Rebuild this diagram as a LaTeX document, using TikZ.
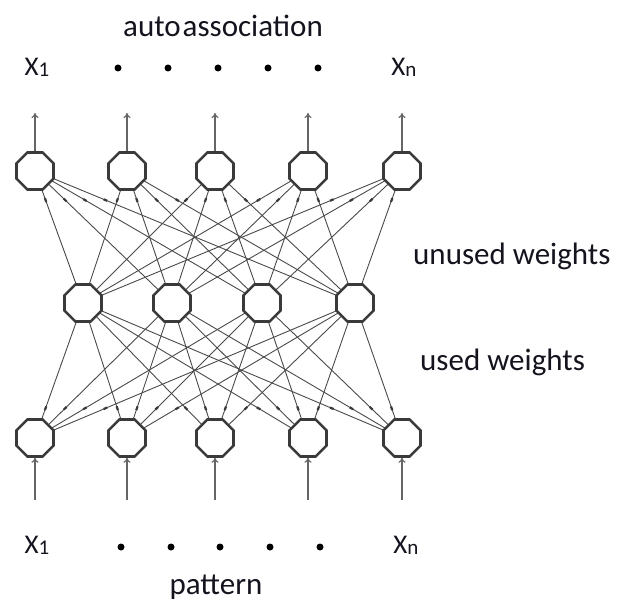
\documentclass[tikz,border=0pt]{standalone}
\usepackage{fontspec}
\setmainfont{Carlito}
\usetikzlibrary{shapes.geometric,arrows.meta,decorations.markings}
\definecolor{nodegray}{HTML}{3A3A3A}
\definecolor{linegray}{HTML}{4A4A4A}
\definecolor{txt}{HTML}{14141E}
\begin{document}
\begin{tikzpicture}[x=1pt,y=-1pt,
  neuron/.style={regular polygon,regular polygon sides=8,minimum size=40pt,inner sep=0pt,draw=nodegray,line width=2.6pt,fill=white},
  wire/.style={draw=linegray,line width=0.9pt,
    postaction={decorate,decoration={markings,mark=at position #1 with {\fill[nodegray] (-2pt,-1.1pt) rectangle (2pt,1.1pt);}}}},
  wire/.default=0.2,
  io/.style={draw=linegray!85,line width=1.2pt,-{To[length=5pt,width=7pt]}},
  lbl/.style={text=txt,font=\fontsize{31}{34}\selectfont,inner sep=0pt},
  xl/.style={text=txt,font=\fontsize{27}{30}\selectfont,inner sep=0pt},
  dotm/.style={circle,fill=black,inner sep=0pt,minimum size=7pt}
]
\useasboundingbox (0,0) rectangle (618,601);
\fill[white] (0,0) rectangle (618,601);

\foreach \i/\x in {1/35,2/127,3/215,4/308,5/402}{
  \coordinate (tout\i) at (\x,113);
  \coordinate (bin\i) at (\x,500);
  \coordinate (tc\i) at (\x,171);
  \coordinate (bc\i) at (\x,438);
}
\foreach \j/\x in {1/83,2/172,3/262,4/355}{
  \coordinate (mpos\j) at (\x,303);
}
\foreach \i in {1,...,5}{
  \foreach \j in {1,...,4}{
    \draw[wire=0.22] (tc\i) -- (mpos\j);
    \draw[wire=0.22] (bc\i) -- (mpos\j);
  }
}
\foreach \i in {1,...,5}{
  \node[neuron] (t\i) at (tc\i) {};
  \node[neuron] (b\i) at (bc\i) {};
}
\foreach \j in {1,...,4}{
  \node[neuron] (m\j) at (mpos\j) {};
}
\foreach \i in {1,...,5}{
  \draw[io] (t\i.north) -- (tout\i);
  \draw[io] (bin\i) -- (b\i.south);
}

\node[lbl] (auto) at (223,26) {auto\hspace{2pt}association};
\node[xl] (xt1) at (37,67) {X\raisebox{-1pt}{\fontsize{21}{22}\selectfont 1}};
\node[xl] (xtn) at (404,67) {X\raisebox{-1pt}{\fontsize{21}{22}\selectfont n}};
\foreach \k/\x in {1/118,2/168,3/218,4/268,5/318}{
  \node[dotm] (td\k) at (\x,68) {};
}
\node[xl] (xb1) at (37,545) {X\raisebox{-1pt}{\fontsize{21}{22}\selectfont 1}};
\node[xl] (xbn) at (406,545) {X\raisebox{-1pt}{\fontsize{21}{22}\selectfont n}};
\foreach \k/\x in {1/121,2/171,3/220,4/270,5/320}{
  \node[dotm] (bd\k) at (\x,547) {};
}
\node[lbl] (pat) at (216,587) {pattern};
\node[lbl,anchor=west] (unused) at (413,256) {unused weights};
\node[lbl,anchor=west] (used) at (420,362) {used weights};
\end{tikzpicture}
\end{document}
